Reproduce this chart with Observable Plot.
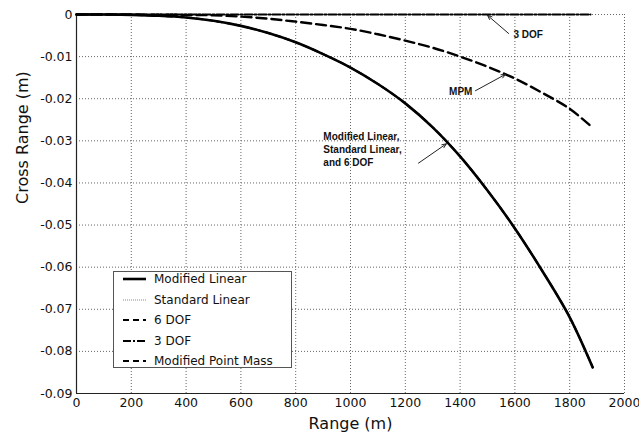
<!DOCTYPE html>
<html>
<head>
<meta charset="utf-8">
<script src="https://cdn.jsdelivr.net/npm/d3@7"></script>
<script src="https://cdn.jsdelivr.net/npm/@observablehq/plot@0.6"></script>
<style>
  html, body { margin: 0; padding: 0; background: #fff; }
  #wrap { position: relative; width: 639px; height: 434px; font-family: "DejaVu Sans", sans-serif; }
  #legend {
    position: absolute; left: 113px; top: 271px; width: 177px; height: 95px;
    background: #fff; border: 1px solid #555;
  }
  #legend .row { position: absolute; left: 0; height: 20px; display: flex; align-items: center; }
  #legend svg { margin-left: 9px; margin-right: 8px; }
  #legend span { font-size: 12px; color: #111; white-space: nowrap; }
</style>
</head>
<body>
<div id="wrap"></div>
<script>
// Downrange distance (m) and cross-range drift (m) for each model.
const rangeLinear = [0, 100, 200, 300, 400, 500, 600, 700, 800, 900, 1000, 1100, 1200, 1300, 1400, 1500, 1600, 1700, 1800, 1884];
const crossLinear = [0, 0, -0.0001, -0.0003, -0.0007, -0.0015, -0.0027, -0.0044, -0.0066, -0.0094, -0.0126, -0.0165, -0.0211, -0.0268, -0.0337, -0.0418, -0.0508, -0.0609, -0.0719, -0.0838];

const rangeMPM = [0, 200, 400, 500, 600, 700, 800, 900, 1000, 1100, 1200, 1300, 1400, 1500, 1600, 1700, 1800, 1882];
const crossMPM = [0, 0, -0.0001, -0.0002, -0.0005, -0.0010, -0.0017, -0.0025, -0.0034, -0.0047, -0.0062, -0.0079, -0.0100, -0.0124, -0.0152, -0.0186, -0.0224, -0.0268];

const range3DOF = [0, 400, 800, 1200, 1600, 1876];
const cross3DOF = [0, 0, 0, 0, 0, 0];

const xTicks = [0, 200, 400, 600, 800, 1000, 1200, 1400, 1600, 1800, 2000];
const yTicks = [0, -0.01, -0.02, -0.03, -0.04, -0.05, -0.06, -0.07, -0.08, -0.09];

// Callout labels with an arrow from each label to its curve.
const callouts = [
  {text: "Modified Linear,\nStandard Linear,\nand 6 DOF", tx: 901, ty: -0.0318, anchor: "start", x1: 1248, y1: -0.0353, x2: 1350, y2: -0.0307},
  {text: "MPM", tx: 1445, ty: -0.0181, anchor: "end", x1: 1456, y1: -0.0181, x2: 1566, y2: -0.0142},
  {text: "3 DOF", tx: 1595, ty: -0.0045, anchor: "start", x1: 1577, y1: -0.0045, x2: 1500, y2: -0.0002}
];

const toRows = (xs, ys) => xs.map((x, i) => ({x, y: ys[i]}));
const linear = toRows(rangeLinear, crossLinear);
const mpm = toRows(rangeMPM, crossMPM);
const dof3 = toRows(range3DOF, cross3DOF);

const font = "DejaVu Sans";
const gridStyle = {stroke: "#666", strokeDasharray: "1,2", strokeWidth: 1};
const calloutText = anchor => Plot.text(callouts.filter(d => d.anchor === anchor), {
  x: "tx", y: "ty", text: "text", textAnchor: anchor, lineAnchor: "middle",
  fontFamily: "Liberation Sans", fontWeight: "bold", fontSize: 10, lineHeight: 1.3, fill: "#111"
});

const chart = Plot.plot({
  width: 639,
  height: 434,
  marginLeft: 76,
  marginRight: 15,
  marginTop: 14,
  marginBottom: 41,
  style: {fontFamily: font, background: "#fff", color: "#111"},
  x: {domain: [0, 2000]},
  y: {domain: [-0.09, 0]},
  marks: [
    Plot.ruleX(xTicks.filter(d => d > 0), {...gridStyle}),
    Plot.ruleY(yTicks.filter(d => d > -0.09), {...gridStyle}),
    Plot.axisX({ticks: xTicks, tickSize: 0, tickPadding: 5, fontSize: 12.5, label: null, tickFormat: d => String(d)}),
    Plot.axisY({ticks: yTicks, tickSize: 0, tickPadding: 4, fontSize: 12.5, label: null, tickFormat: d => d === 0 ? "0" : d.toFixed(2)}),
    Plot.ruleX([0], {stroke: "#222", strokeWidth: 1.2}),
    Plot.ruleY([-0.09], {stroke: "#222", strokeWidth: 1.2}),
    // 6 DOF and Standard Linear coincide with Modified Linear
    Plot.line(linear, {x: "x", y: "y", stroke: "#000", strokeWidth: 2, strokeDasharray: "6,4", curve: "catmull-rom"}),
    Plot.line(linear, {x: "x", y: "y", stroke: "#888", strokeWidth: 1, strokeDasharray: "1,1", curve: "catmull-rom"}),
    Plot.line(linear, {x: "x", y: "y", stroke: "#000", strokeWidth: 2.6, curve: "catmull-rom"}),
    Plot.line(mpm, {x: "x", y: "y", stroke: "#000", strokeWidth: 2.4, strokeDasharray: "10,5", curve: "catmull-rom"}),
    Plot.line(dof3, {x: "x", y: "y", stroke: "#000", strokeWidth: 2, strokeDasharray: "8,2,2,2"}),
    Plot.arrow(callouts, {x1: "x1", y1: "y1", x2: "x2", y2: "y2", stroke: "#222", strokeWidth: 1, headLength: 7, headAngle: 45}),
    calloutText("start"),
    calloutText("end"),
    Plot.text(["Range (m)"], {frameAnchor: "bottom", dy: 30, lineAnchor: "middle", fontSize: 16, fill: "#111"}),
    Plot.text(["Cross Range (m)"], {frameAnchor: "left", dx: -54, rotate: -90, lineAnchor: "middle", fontSize: 16, fill: "#111"})
  ]
});

const wrap = document.getElementById("wrap");
wrap.appendChild(chart);

// Legend box
const legendItems = [
  {label: "Modified Linear", dash: null, width: 2.6, color: "#000"},
  {label: "Standard Linear", dash: "1,1", width: 1, color: "#888"},
  {label: "6 DOF", dash: "6,4", width: 2, color: "#000"},
  {label: "3 DOF", dash: "8,2,2,2", width: 2, color: "#000"},
  {label: "Modified Point Mass", dash: "6,4", width: 2, color: "#000"}
];
const legend = document.createElement("div");
legend.id = "legend";
legendItems.forEach((item, i) => {
  const row = document.createElement("div");
  row.className = "row";
  row.style.top = (-3 + i * 20.6) + "px";
  const svg = d3.create("svg").attr("width", 23).attr("height", 8);
  svg.append("line").attr("x1", 0).attr("x2", 23).attr("y1", 4).attr("y2", 4)
    .attr("stroke", item.color).attr("stroke-width", item.width)
    .attr("stroke-dasharray", item.dash);
  row.appendChild(svg.node());
  const span = document.createElement("span");
  span.textContent = item.label;
  row.appendChild(span);
  legend.appendChild(row);
});
wrap.appendChild(legend);
</script>
</body>
</html>
